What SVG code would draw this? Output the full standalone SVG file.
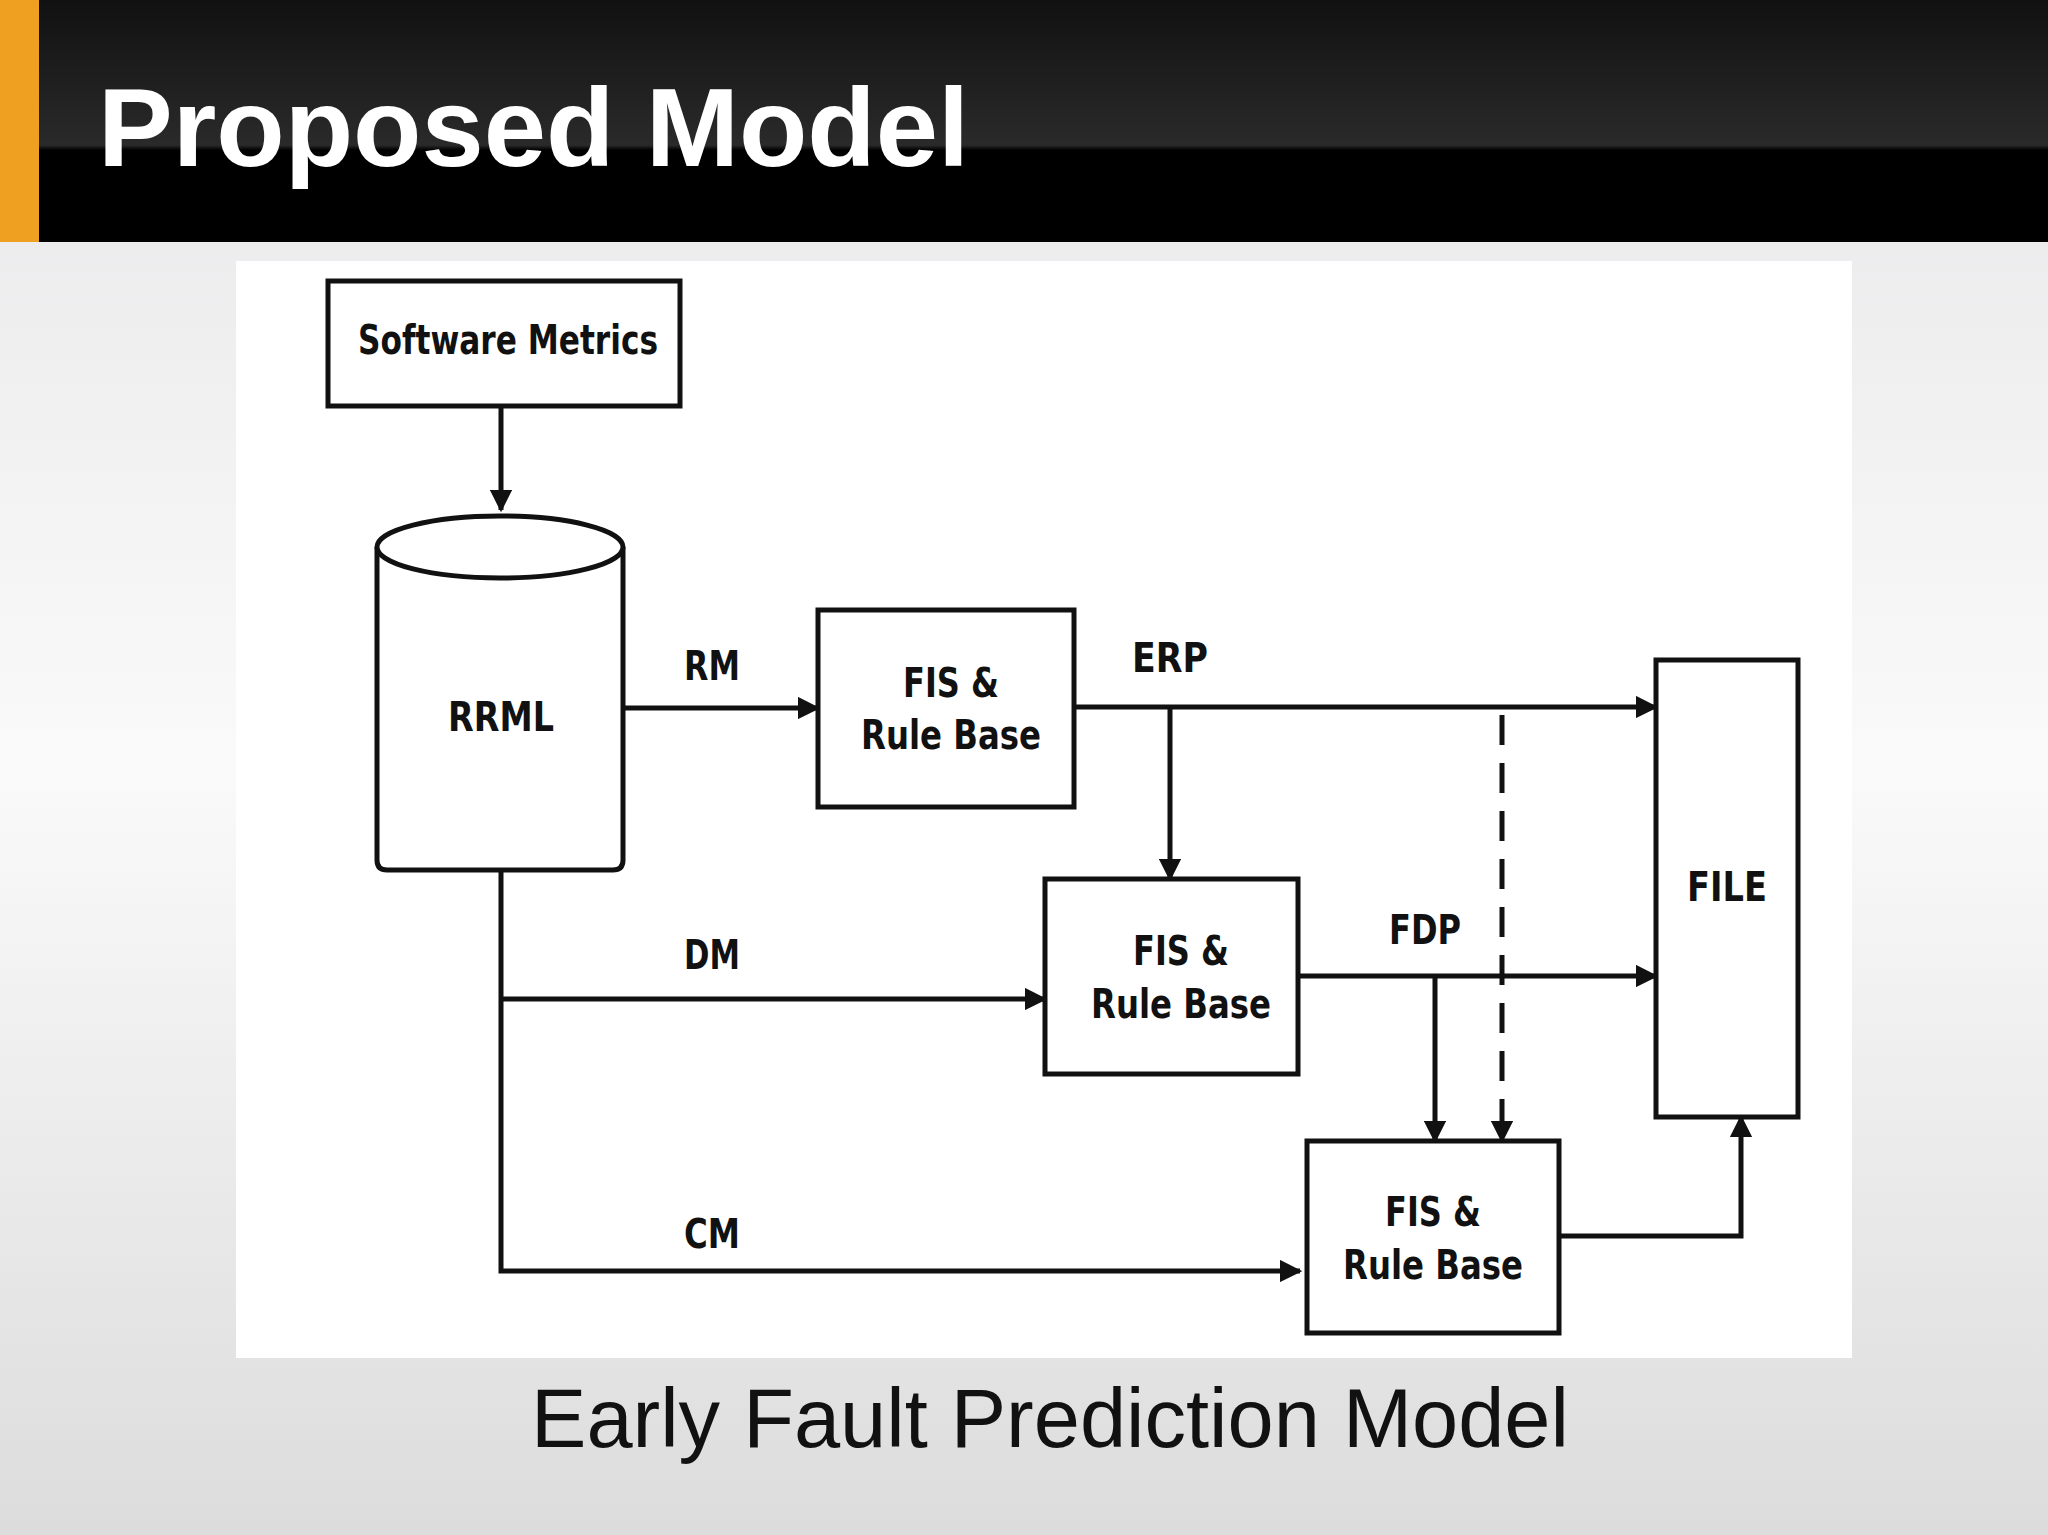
<svg xmlns="http://www.w3.org/2000/svg" width="2048" height="1535" viewBox="0 0 2048 1535">
<defs>
<linearGradient id="bg" x1="0" y1="0" x2="0" y2="1"><stop offset="0" stop-color="#e6e6e8"/><stop offset="0.5" stop-color="#fafafa"/><stop offset="1" stop-color="#dcdcdc"/></linearGradient>
<linearGradient id="hd" x1="0" y1="0" x2="0" y2="1"><stop offset="0" stop-color="#111"/><stop offset="0.6" stop-color="#2a2a2a"/><stop offset="0.62" stop-color="#000"/><stop offset="1" stop-color="#000"/></linearGradient>
<marker id="a" viewBox="0 0 10 10" refX="9" refY="5" markerWidth="4.5" markerHeight="4.5" orient="auto"><path d="M0,0L10,5L0,10z" fill="#111"/></marker>
</defs>
<style>
.b{fill:#fff;stroke:#111;stroke-width:5}
.l{fill:none;stroke:#111;stroke-width:5}
.t{font-family:"DejaVu Sans",sans-serif;font-weight:bold;font-size:40px;fill:#111;text-anchor:middle}
</style>
<rect width="2048" height="1535" fill="url(#bg)"/>
<rect width="2048" height="242" fill="url(#hd)"/>
<rect width="39" height="242" fill="#f0a020"/>
<text x="98" y="166" font-family="Liberation Sans,sans-serif" font-weight="bold" font-size="112" fill="#fff">Proposed Model</text>
<rect x="236" y="261" width="1616" height="1097" fill="#fff"/>
<g id="sm"><rect class="b" x="328" y="281" width="352" height="125"/><text class="t" x="508" y="354" textLength="300" lengthAdjust="spacingAndGlyphs">Software Metrics</text></g>
<g id="rrml"><path class="b" d="M377,547V860Q377,870 387,870H613Q623,870 623,860V547"/><ellipse class="b" cx="500" cy="547" rx="123" ry="31"/><text class="t" x="501" y="731" textLength="106" lengthAdjust="spacingAndGlyphs">RRML</text></g>
<g id="fis1"><rect class="b" x="818" y="610" width="256" height="197"/><text class="t" x="951" y="697" textLength="96" lengthAdjust="spacingAndGlyphs">FIS &amp;</text><text class="t" x="951" y="749" textLength="180" lengthAdjust="spacingAndGlyphs">Rule Base</text></g>
<g id="fis2"><rect class="b" x="1045" y="879" width="253" height="195"/><text class="t" x="1181" y="965" textLength="96" lengthAdjust="spacingAndGlyphs">FIS &amp;</text><text class="t" x="1181" y="1018" textLength="180" lengthAdjust="spacingAndGlyphs">Rule Base</text></g>
<g id="fis3"><rect class="b" x="1307" y="1141" width="252" height="192"/><text class="t" x="1433" y="1226" textLength="96" lengthAdjust="spacingAndGlyphs">FIS &amp;</text><text class="t" x="1433" y="1279" textLength="180" lengthAdjust="spacingAndGlyphs">Rule Base</text></g>
<g id="file"><rect class="b" x="1656" y="660" width="142" height="457"/><text class="t" x="1727" y="901" textLength="80" lengthAdjust="spacingAndGlyphs">FILE</text></g>
<g id="connectors">
<path class="l" d="M501,406V510" marker-end="url(#a)"/>
<path class="l" d="M623,708H818" marker-end="url(#a)"/>
<path class="l" d="M1074,707H1656" marker-end="url(#a)"/>
<path class="l" d="M1170,707V879" marker-end="url(#a)"/>
<path class="l" d="M1502,715V1141" stroke-dasharray="30,18" marker-end="url(#a)"/>
<path class="l" d="M501,870V1271H1300" marker-end="url(#a)"/>
<path class="l" d="M501,999H1045" marker-end="url(#a)"/>
<path class="l" d="M1298,976H1656" marker-end="url(#a)"/>
<path class="l" d="M1435,976V1141" marker-end="url(#a)"/>
<path class="l" d="M1559,1236H1741V1117" marker-end="url(#a)"/>
<text class="t" x="712" y="680" textLength="56" lengthAdjust="spacingAndGlyphs">RM</text>
<text class="t" x="1170" y="672" textLength="76" lengthAdjust="spacingAndGlyphs">ERP</text>
<text class="t" x="712" y="969" textLength="56" lengthAdjust="spacingAndGlyphs">DM</text>
<text class="t" x="1425" y="944" textLength="72" lengthAdjust="spacingAndGlyphs">FDP</text>
<text class="t" x="712" y="1248" textLength="56" lengthAdjust="spacingAndGlyphs">CM</text>
</g>
<text x="1050" y="1447" font-family="Liberation Sans,sans-serif" font-size="83" fill="#111" text-anchor="middle">Early Fault Prediction Model</text>
</svg>
